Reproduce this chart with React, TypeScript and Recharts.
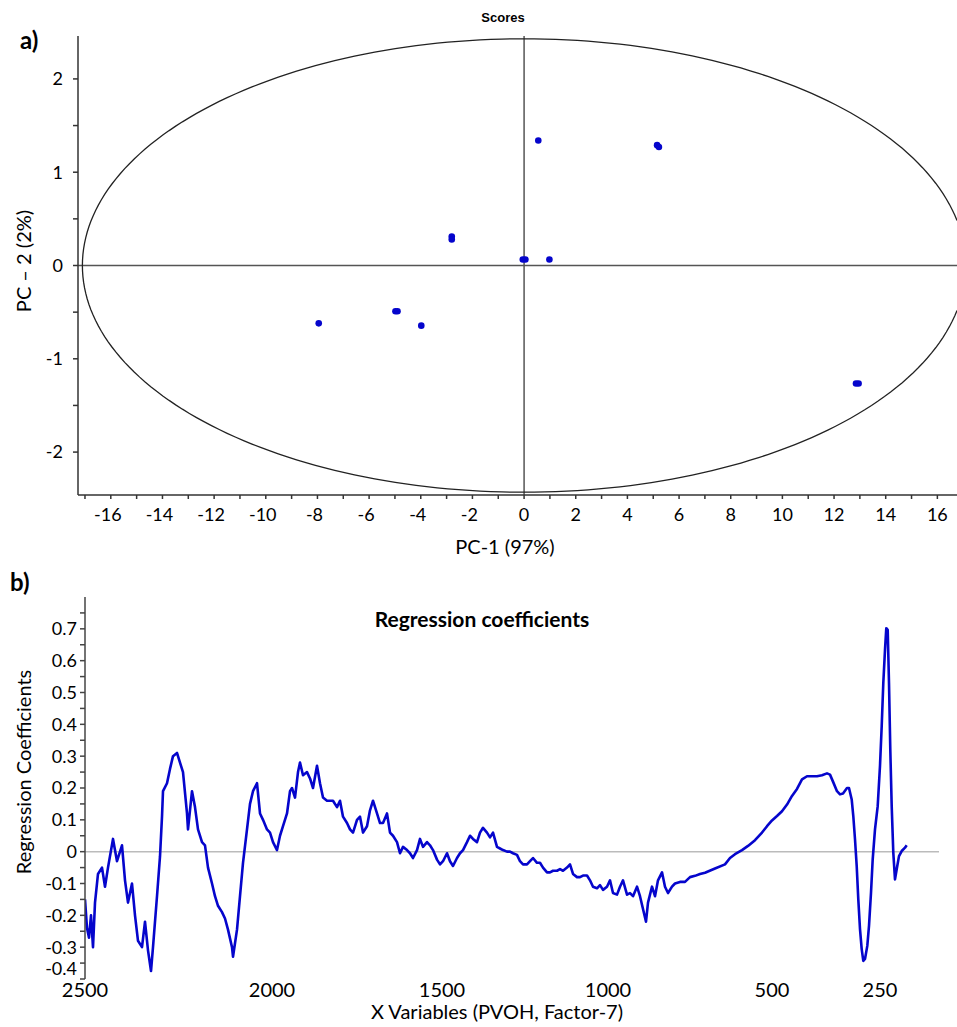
import React from "react";
import { ComposedChart, LineChart, Line, Scatter, XAxis, YAxis, ReferenceLine } from "recharts";

// ---- a) PCA scores ----
const PC1 = [0.55, 5.15, 5.22, -0.05, 0.05, 0.98, -2.8, -2.8, -7.95, -4.98, -4.9, -3.98, 12.85, 12.95];
const PC2 = [1.34, 1.29, 1.27, 0.065, 0.065, 0.065, 0.31, 0.28, -0.62, -0.49, -0.49, -0.645, -1.265, -1.265];
const PC1_DOMAIN = [-17.27, 16.76];
const PC2_DOMAIN = [-2.46, 2.46];
const PC1_TICKS = [-17, -16, -15, -14, -13, -12, -11, -10, -9, -8, -7, -6, -5, -4, -3, -2, -1, 0, 1, 2, 3, 4, 5, 6, 7, 8, 9, 10, 11, 12, 13, 14, 15, 16];
const PC2_TICKS = [-2, -1.5, -1, -0.5, 0, 0.5, 1, 1.5, 2];
// Hotelling T2 ellipse semi-axes
const ELLIPSE_A = 17.1;
const ELLIPSE_B = 2.43;

// ---- b) regression coefficients: [variable index, coefficient] ----
const COEF_POINTS: [number, number][] = [
  [0, -0.15], [2, -0.24], [4, -0.27], [6, -0.2], [8, -0.3], [10, -0.16], [13, -0.07], [17, -0.05], [20, -0.11], [23, -0.05],
  [28, 0.04], [32, -0.03], [35, 0.0], [37, 0.02], [40, -0.09], [43, -0.16], [47, -0.1], [50, -0.2], [53, -0.28], [57, -0.3],
  [60, -0.22], [63, -0.31], [66, -0.375], [68, -0.3], [72, -0.14], [75, -0.015], [77, 0.11], [78, 0.19], [82, 0.215], [85, 0.26],
  [88, 0.3], [92, 0.31], [95, 0.28], [98, 0.25], [102, 0.12], [103, 0.07], [107, 0.19], [110, 0.14], [113, 0.07], [117, 0.03],
  [120, 0.02], [123, -0.05], [127, -0.1], [130, -0.14], [133, -0.17], [137, -0.19], [140, -0.21], [143, -0.245], [147, -0.3], [148, -0.33],
  [152, -0.245], [155, -0.14], [158, -0.035], [162, 0.07], [165, 0.15], [168, 0.19], [172, 0.215], [175, 0.12], [178, 0.1], [182, 0.07],
  [185, 0.06], [188, 0.03], [192, 0.005], [195, 0.05], [198, 0.08], [202, 0.12], [205, 0.19], [207, 0.2], [210, 0.17], [213, 0.25],
  [215, 0.28], [218, 0.24], [222, 0.25], [225, 0.23], [228, 0.2], [232, 0.27], [235, 0.215], [238, 0.17], [242, 0.16], [245, 0.16],
  [248, 0.16], [252, 0.14], [255, 0.16], [258, 0.11], [262, 0.09], [265, 0.07], [268, 0.06], [272, 0.1], [275, 0.11], [278, 0.06],
  [282, 0.08], [285, 0.13], [288, 0.16], [292, 0.12], [295, 0.09], [298, 0.09], [302, 0.12], [305, 0.06], [308, 0.05], [312, 0.03],
  [315, -0.005], [318, 0.015], [322, 0.005], [325, -0.005], [328, -0.02], [332, 0.005], [335, 0.04], [338, 0.015], [342, 0.03], [345, 0.02],
  [348, 0.005], [352, -0.025], [355, -0.04], [358, -0.03], [362, -0.005], [365, -0.03], [368, -0.045], [372, -0.02], [375, -0.005], [378, 0.005],
  [382, 0.03], [385, 0.05], [388, 0.04], [392, 0.03], [395, 0.06], [398, 0.075], [402, 0.06], [405, 0.045], [408, 0.06], [412, 0.015],
  [415, 0.01], [418, 0.005], [422, 0.0], [425, 0.0], [428, -0.005], [432, -0.01], [435, -0.03], [438, -0.04], [442, -0.04], [445, -0.03],
  [448, -0.02], [452, -0.035], [455, -0.035], [458, -0.05], [462, -0.065], [465, -0.065], [468, -0.06], [472, -0.06], [475, -0.055], [478, -0.06],
  [482, -0.05], [485, -0.04], [488, -0.07], [492, -0.08], [495, -0.08], [498, -0.075], [502, -0.075], [505, -0.09], [508, -0.11], [512, -0.115],
  [515, -0.105], [518, -0.12], [522, -0.11], [525, -0.09], [528, -0.13], [532, -0.135], [535, -0.11], [538, -0.09], [542, -0.135], [545, -0.13],
  [548, -0.14], [552, -0.11], [555, -0.14], [558, -0.18], [561, -0.22], [563, -0.16], [567, -0.11], [570, -0.14], [573, -0.09], [577, -0.065],
  [580, -0.11], [583, -0.13], [587, -0.11], [590, -0.1], [595, -0.095], [600, -0.095], [605, -0.08], [610, -0.076], [615, -0.07], [620, -0.066],
  [630, -0.053], [640, -0.04], [645, -0.02], [650, -0.008], [657, 0.005], [663, 0.018], [670, 0.036], [677, 0.06], [682, 0.08], [687, 0.098],
  [692, 0.112], [697, 0.127], [702, 0.148], [707, 0.175], [712, 0.197], [717, 0.227], [722, 0.237], [727, 0.237], [732, 0.237], [737, 0.24],
  [742, 0.246], [745, 0.242], [748, 0.22], [752, 0.19], [755, 0.18], [758, 0.183], [762, 0.2], [764, 0.2], [766.7, 0.164], [768.3, 0.112],
  [770, 0.039], [771.7, -0.045], [773.3, -0.15], [775, -0.243], [776.7, -0.306], [778.3, -0.343], [780, -0.337], [782.3, -0.296], [784, -0.233], [786, -0.129],
  [787.7, -0.024], [790, 0.07], [792.7, 0.143], [795, 0.27], [796.7, 0.394], [798.3, 0.53], [800, 0.634], [801.3, 0.702], [802.7, 0.697], [804, 0.53],
  [805.3, 0.32], [806.7, 0.143], [808.3, -0.003], [810, -0.087], [811.7, -0.055], [814, -0.014], [816.7, 0.002], [820, 0.0125], [821.7, 0.02],
];
const VAR_DOMAIN = [0, 854];
const VAR_TICK_POS = [0, 187, 357, 523, 687, 795];
const VAR_TICK_LABELS = ["2500", "2000", "1500", "1000", "500", "250"];
const COEF_TICKS = [-0.4, -0.35, -0.3, -0.25, -0.2, -0.15, -0.1, -0.05, 0, 0.05, 0.1, 0.15, 0.2, 0.25, 0.3, 0.35, 0.4, 0.45, 0.5, 0.55, 0.6, 0.65, 0.7, 0.75];

const FONT = "Lato, 'Open Sans', sans-serif";
const BLUE = "#0505cc";

const scores = PC1.map((x, i) => ({ x, y: PC2[i] }));

// open arc of the ellipse that lies inside the visible x range
const t0 = Math.acos(PC1_DOMAIN[1] / ELLIPSE_A);
const ellipse = Array.from({ length: 241 }, (_, i) => {
  const t = t0 + ((2 * Math.PI - 2 * t0) * i) / 240;
  return { x: ELLIPSE_A * Math.cos(t), y: ELLIPSE_B * Math.sin(t) };
});

const coefData = COEF_POINTS.map(([idx, coef]) => ({ idx, coef }));

function Pc1Tick(props: any) {
  const { x, y, payload } = props;
  const v = payload.value;
  if (v % 2 !== 0) return <g />;
  return (
    <text x={x + (v < 0 ? -3 : 0)} y={y} dy="0.71em" textAnchor="middle" fill="#000" fontSize={18} fontFamily={FONT}>
      {v}
    </text>
  );
}

function CoefTick(props: any) {
  const { x, y, payload } = props;
  const r = Math.round(payload.value * 10);
  if (Math.abs(payload.value * 10 - r) > 1e-6) return <g />;
  const label = r === 0 ? "0" : (r / 10).toFixed(1);
  return (
    <text x={x} y={y + (r === -4 ? -10 : 0)} dy="0.355em" textAnchor="end" fill="#000" fontSize={18} fontFamily={FONT}>
      {label}
    </text>
  );
}

const axisTitle = (text: string, x: number, y: number, rotate = false) => () => (
  <text
    x={x}
    y={y}
    transform={rotate ? `rotate(-90 ${x} ${y})` : undefined}
    textAnchor="middle"
    dominantBaseline={rotate ? "central" : "auto"}
    fill="#000"
    fontSize={20}
    fontFamily={FONT}
  >
    {text}
  </text>
);

const dot = (p: any) => <circle cx={p.cx} cy={p.cy} r={3.3} fill={BLUE} />;

export default function App() {
  return (
    <div style={{ position: "absolute", left: 0, top: 0, width: 957, height: 1027, background: "#fff", fontFamily: FONT, overflow: "hidden" }}>
      <div style={{ position: "absolute", left: 20, top: 28, fontSize: 24, lineHeight: "24px", fontWeight: 700 }}>a)</div>
      <div style={{ position: "absolute", left: 453, top: 11, width: 100, textAlign: "center", fontSize: 13, lineHeight: "13px", fontWeight: 700, fontFamily: "'Liberation Sans', Arial, sans-serif" }}>
        Scores
      </div>

      <div style={{ position: "absolute", left: 0, top: 0 }}>
        <ComposedChart width={957} height={560} margin={{ top: 36, right: 0, bottom: 0, left: 0 }}>
          <XAxis
            type="number"
            dataKey="x"
            domain={PC1_DOMAIN}
            allowDataOverflow
            ticks={PC1_TICKS}
            interval={0}
            height={65}
            tickSize={4}
            tickMargin={9}
            tick={<Pc1Tick />}
            stroke="#333"
            strokeWidth={1.5}
            label={{ content: axisTitle("PC-1 (97%)", 505, 554) }}
          />
          <YAxis
            type="number"
            dataKey="y"
            domain={PC2_DOMAIN}
            allowDataOverflow
            ticks={PC2_TICKS}
            interval={0}
            width={78}
            tickSize={5}
            tickMargin={10}
            tickFormatter={(v: number) => (Number.isInteger(v) ? String(v) : "")}
            tick={{ fill: "#000", fontSize: 18, fontFamily: FONT }}
            stroke="#333"
            strokeWidth={1.5}
            label={{ content: axisTitle("PC – 2 (2%)", 23, 261, true) }}
          />
          <ReferenceLine x={0} stroke="#555" strokeWidth={1.5} />
          <ReferenceLine y={0} stroke="#555" strokeWidth={1.5} />
          <Line data={ellipse} dataKey="y" type="linear" dot={false} stroke="#222" strokeWidth={1.3} isAnimationActive={false} />
          <Scatter data={scores} fill={BLUE} shape={dot} isAnimationActive={false} />
        </ComposedChart>
      </div>

      <div style={{ position: "absolute", left: 10, top: 570, fontSize: 24, lineHeight: "24px", fontWeight: 700 }}>b)</div>
      <div style={{ position: "absolute", left: 332, top: 608, width: 300, textAlign: "center", fontSize: 21, lineHeight: "21px", fontWeight: 700 }}>
        Regression coefficients
      </div>

      <div style={{ position: "absolute", left: 0, top: 580 }}>
        <LineChart width={957} height={447} data={coefData} margin={{ top: 17, right: 18, bottom: 0, left: 0 }}>
          <XAxis
            type="number"
            dataKey="idx"
            domain={VAR_DOMAIN}
            allowDataOverflow
            ticks={VAR_TICK_POS}
            interval={0}
            height={48}
            axisLine={false}
            tickLine={false}
            tickSize={0}
            tickMargin={4}
            tickFormatter={(v: number) => VAR_TICK_LABELS[VAR_TICK_POS.indexOf(v)] ?? ""}
            tick={{ fill: "#000", fontSize: 20, fontFamily: FONT }}
            label={{ content: axisTitle("X Variables (PVOH, Factor-7)", 497, 439) }}
          />
          <YAxis
            type="number"
            domain={[-0.4, 0.8]}
            allowDataOverflow
            ticks={COEF_TICKS}
            interval={0}
            width={85}
            tickSize={5}
            tickMargin={3}
            tick={<CoefTick />}
            stroke="#444"
            strokeWidth={1.5}
            label={{ content: axisTitle("Regression Coefficients", 23, 192, true) }}
          />
          <ReferenceLine y={0} stroke="#bbb" strokeWidth={1.5} />
          <Line dataKey="coef" type="linear" dot={false} stroke={BLUE} strokeWidth={2.6} strokeLinejoin="round" isAnimationActive={false} />
        </LineChart>
      </div>
    </div>
  );
}
